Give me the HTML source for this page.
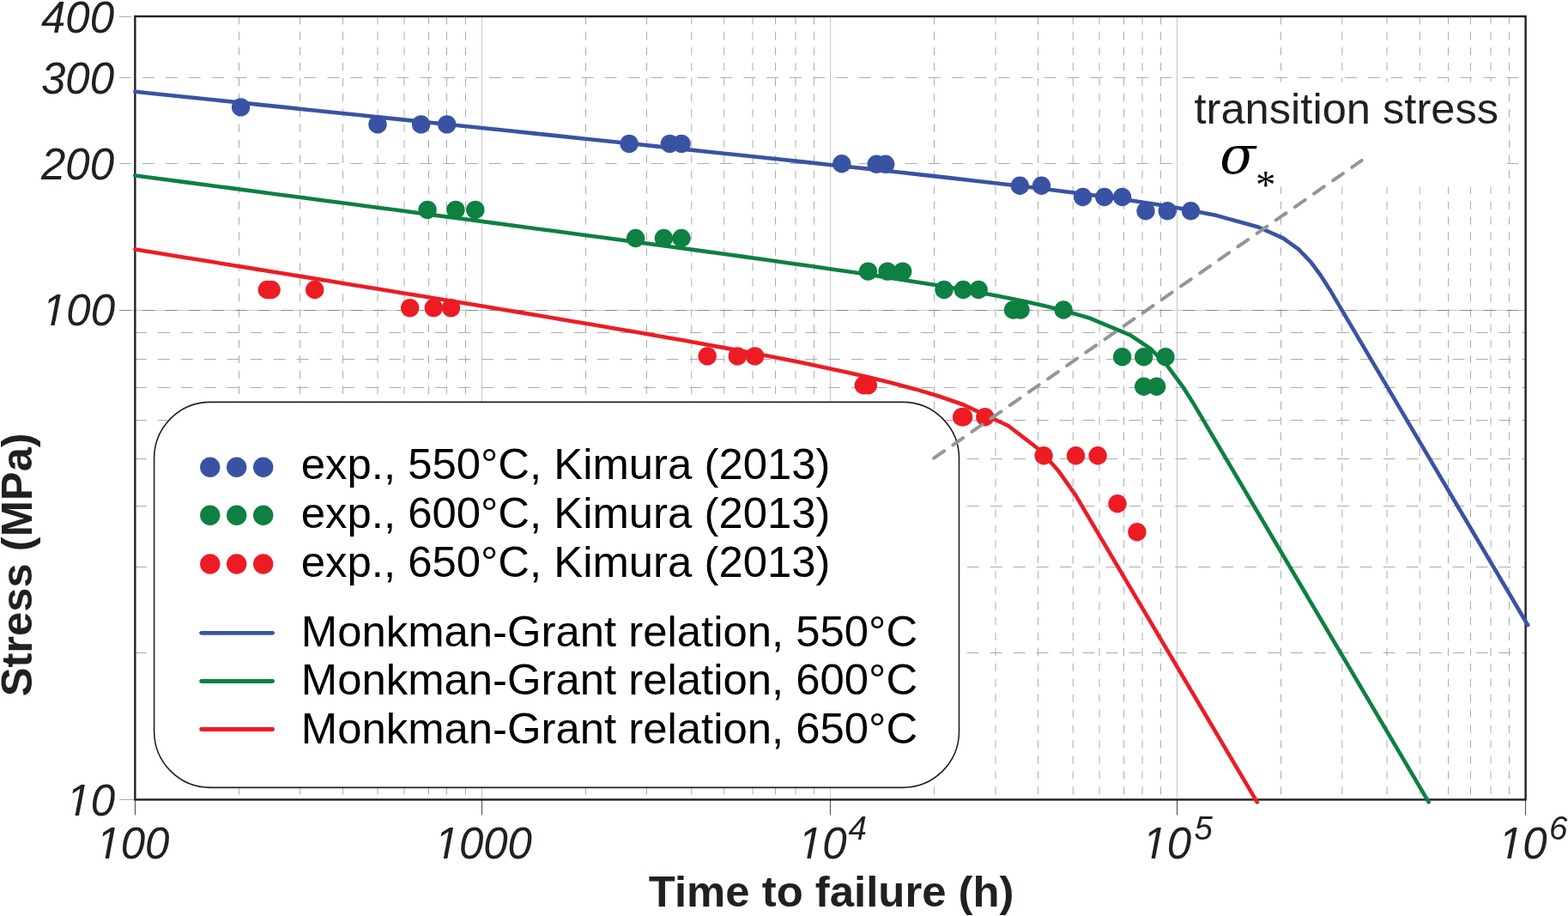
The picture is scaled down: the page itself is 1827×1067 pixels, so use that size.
<!DOCTYPE html><html><head><meta charset="utf-8"><title>Stress vs time to failure</title><style>html,body{margin:0;padding:0;background:#fff;}svg{display:block;}</style></head><body>
<svg width="1827" height="1067" viewBox="0 0 1827 1067">
<rect x="0" y="0" width="1827" height="1067" fill="#fff"/>
<g fill="none" stroke-width="1">
<line x1="278.5" y1="19.3" x2="278.5" y2="931.45" stroke="#aaacaf" stroke-dasharray="9.2 8.74"/>
<line x1="349.5" y1="19.3" x2="349.5" y2="931.45" stroke="#aaacaf" stroke-dasharray="9.2 8.74"/>
<line x1="399.5" y1="19.3" x2="399.5" y2="931.45" stroke="#aaacaf" stroke-dasharray="9.2 8.74"/>
<line x1="440.0" y1="19.3" x2="440.0" y2="931.45" stroke="#aaacaf" stroke-dasharray="9.2 8.74"/>
<line x1="471.0" y1="19.3" x2="471.0" y2="931.45" stroke="#aaacaf" stroke-dasharray="9.2 8.74"/>
<line x1="499.5" y1="19.3" x2="499.5" y2="931.45" stroke="#aaacaf" stroke-dasharray="9.2 8.74"/>
<line x1="520.5" y1="19.3" x2="520.5" y2="931.45" stroke="#aaacaf" stroke-dasharray="9.2 8.74"/>
<line x1="542.5" y1="19.3" x2="542.5" y2="931.45" stroke="#aaacaf" stroke-dasharray="9.2 8.74"/>
<line x1="682.5" y1="19.3" x2="682.5" y2="931.45" stroke="#aaacaf" stroke-dasharray="9.2 8.74"/>
<line x1="753.5" y1="19.3" x2="753.5" y2="931.45" stroke="#aaacaf" stroke-dasharray="9.2 8.74"/>
<line x1="805.75" y1="19.3" x2="805.75" y2="931.45" stroke="#aaacaf" stroke-dasharray="9.2 8.74"/>
<line x1="843.75" y1="19.3" x2="843.75" y2="931.45" stroke="#aaacaf" stroke-dasharray="9.2 8.74"/>
<line x1="877.0" y1="19.3" x2="877.0" y2="931.45" stroke="#aaacaf" stroke-dasharray="9.2 8.74"/>
<line x1="903.5" y1="19.3" x2="903.5" y2="931.45" stroke="#aaacaf" stroke-dasharray="9.2 8.74"/>
<line x1="927.0" y1="19.3" x2="927.0" y2="931.45" stroke="#aaacaf" stroke-dasharray="9.2 8.74"/>
<line x1="948.5" y1="19.3" x2="948.5" y2="931.45" stroke="#aaacaf" stroke-dasharray="9.2 8.74"/>
<line x1="1088.5" y1="19.3" x2="1088.5" y2="931.45" stroke="#aaacaf" stroke-dasharray="9.2 8.74"/>
<line x1="1160.0" y1="19.3" x2="1160.0" y2="931.45" stroke="#aaacaf" stroke-dasharray="9.2 8.74"/>
<line x1="1209.5" y1="19.3" x2="1209.5" y2="931.45" stroke="#aaacaf" stroke-dasharray="9.2 8.74"/>
<line x1="1250.25" y1="19.3" x2="1250.25" y2="931.45" stroke="#aaacaf" stroke-dasharray="9.2 8.74"/>
<line x1="1281.0" y1="19.3" x2="1281.0" y2="931.45" stroke="#aaacaf" stroke-dasharray="9.2 8.74"/>
<line x1="1309.5" y1="19.3" x2="1309.5" y2="931.45" stroke="#aaacaf" stroke-dasharray="9.2 8.74"/>
<line x1="1331.0" y1="19.3" x2="1331.0" y2="931.45" stroke="#aaacaf" stroke-dasharray="9.2 8.74"/>
<line x1="1352.5" y1="19.3" x2="1352.5" y2="931.45" stroke="#aaacaf" stroke-dasharray="9.2 8.74"/>
<line x1="1492.5" y1="19.3" x2="1492.5" y2="931.45" stroke="#aaacaf" stroke-dasharray="9.2 8.74"/>
<line x1="1563.75" y1="19.3" x2="1563.75" y2="931.45" stroke="#aaacaf" stroke-dasharray="9.2 8.74"/>
<line x1="1616.0" y1="19.3" x2="1616.0" y2="931.45" stroke="#aaacaf" stroke-dasharray="9.2 8.74"/>
<line x1="1654.25" y1="19.3" x2="1654.25" y2="931.45" stroke="#aaacaf" stroke-dasharray="9.2 8.74"/>
<line x1="1687.5" y1="19.3" x2="1687.5" y2="931.45" stroke="#aaacaf" stroke-dasharray="9.2 8.74"/>
<line x1="1713.5" y1="19.3" x2="1713.5" y2="931.45" stroke="#aaacaf" stroke-dasharray="9.2 8.74"/>
<line x1="1737.0" y1="19.3" x2="1737.0" y2="931.45" stroke="#aaacaf" stroke-dasharray="9.2 8.74"/>
<line x1="1758.5" y1="19.3" x2="1758.5" y2="931.45" stroke="#aaacaf" stroke-dasharray="9.2 8.74"/>
<line x1="561.5" y1="19.05" x2="561.5" y2="931.45" stroke="#c7c7c8"/>
<line x1="967.5" y1="19.05" x2="967.5" y2="931.45" stroke="#c7c7c8"/>
<line x1="1371.5" y1="19.05" x2="1371.5" y2="931.45" stroke="#c7c7c8"/>
<line x1="157" y1="387.5" x2="1777.6" y2="387.5" stroke="#aaacaf" stroke-dasharray="13.9 13.04"/>
<line x1="157" y1="418.5" x2="1777.6" y2="418.5" stroke="#aaacaf" stroke-dasharray="13.9 13.04"/>
<line x1="157" y1="451.5" x2="1777.6" y2="451.5" stroke="#aaacaf" stroke-dasharray="13.9 13.04"/>
<line x1="157" y1="489.5" x2="1777.6" y2="489.5" stroke="#aaacaf" stroke-dasharray="13.9 13.04"/>
<line x1="157" y1="534.5" x2="1777.6" y2="534.5" stroke="#aaacaf" stroke-dasharray="13.9 13.04"/>
<line x1="157" y1="589.5" x2="1777.6" y2="589.5" stroke="#aaacaf" stroke-dasharray="13.9 13.04"/>
<line x1="157" y1="660.5" x2="1777.6" y2="660.5" stroke="#aaacaf" stroke-dasharray="13.9 13.04"/>
<line x1="157" y1="760.5" x2="1777.6" y2="760.5" stroke="#aaacaf" stroke-dasharray="13.9 13.04"/>
<line x1="139" y1="90.5" x2="1777.6" y2="90.5" stroke="#aaacaf" stroke-dasharray="13.9 13.04"/>
<line x1="139" y1="190.5" x2="1777.6" y2="190.5" stroke="#aaacaf" stroke-dasharray="13.9 13.04"/>
<line x1="139" y1="361.5" x2="1777.6" y2="361.5" stroke="#c7c7c8"/>
<line x1="139" y1="361.5" x2="1777.6" y2="361.5" stroke="#8b8c8f" stroke-dasharray="13.9 13.04"/>
<line x1="139" y1="19.5" x2="153" y2="19.5" stroke="#aaacaf"/>
<line x1="139" y1="931.5" x2="157" y2="931.5" stroke="#aaacaf"/>
<line x1="157.5" y1="931.45" x2="157.5" y2="949.5" stroke="#58595b" stroke-width="1.2"/>
<line x1="561.5" y1="931.45" x2="561.5" y2="949.5" stroke="#58595b" stroke-width="1.2"/>
<line x1="967.5" y1="931.45" x2="967.5" y2="949.5" stroke="#58595b" stroke-width="1.2"/>
<line x1="1371.5" y1="931.45" x2="1371.5" y2="949.5" stroke="#58595b" stroke-width="1.2"/>
<line x1="1777.5" y1="931.45" x2="1777.5" y2="949.5" stroke="#58595b" stroke-width="1.2"/>
</g>
<rect x="179.6" y="468.4" width="937.9" height="448.95" rx="65.5" ry="65.5" fill="#fff" stroke="#231f20" stroke-width="1.6"/>
<rect x="1379" y="95.5" width="377" height="122.5" fill="#fff"/>
<rect x="157.35" y="19.05" width="1620.25" height="912.40" fill="none" stroke="#231f20" stroke-width="2.4"/>
<path d="M157.35,106.73 L185.47,109.67 L214.58,112.72 L243.69,115.76 L272.79,118.81 L301.90,121.85 L331.00,124.90 L360.11,127.95 L389.20,130.99 L418.30,134.04 L447.39,137.09 L476.47,140.13 L505.55,143.18 L534.62,146.23 L563.68,149.27 L592.73,152.32 L621.77,155.36 L650.79,158.41 L679.79,161.46 L708.76,164.50 L737.70,167.55 L766.61,170.60 L795.48,173.64 L824.29,176.69 L853.04,179.74 L881.72,182.78 L910.30,185.83 L938.78,188.87 L967.12,191.92 L995.31,194.97 L1023.31,198.01 L1051.09,201.06 L1078.60,204.11 L1105.80,207.15 L1132.63,210.20 L1159.02,213.25 L1184.91,216.29 L1210.22,219.34 L1239.69,222.99 L1268.04,226.65 L1295.10,230.31 L1320.71,233.96 L1348.56,238.23 L1374.03,242.49 L1417.78,251.10 L1466.16,264.50 L1494.97,277.40 L1513.13,290.30 L1527.84,305.80 L1538.74,320.70 L1550.65,339.30 L1780.12,728.00" fill="none" stroke="#3953a4" stroke-width="4.6" stroke-linecap="round" stroke-linejoin="round"/>
<path d="M157.35,204.43 L186.08,208.22 L213.61,211.86 L241.14,215.50 L268.66,219.13 L296.18,222.77 L323.70,226.41 L351.20,230.05 L378.70,233.68 L406.19,237.32 L433.67,240.96 L461.13,244.59 L488.58,248.23 L516.00,251.87 L543.41,255.51 L570.78,259.14 L598.12,262.78 L625.42,266.42 L652.68,270.05 L679.87,273.69 L707.00,277.33 L734.05,280.97 L761.00,284.60 L787.84,288.24 L814.54,291.88 L841.08,295.51 L867.44,299.15 L893.58,302.79 L919.46,306.43 L945.04,310.06 L970.26,313.70 L995.09,317.34 L1025.45,321.88 L1054.96,326.43 L1083.46,330.98 L1110.81,335.52 L1136.85,340.07 L1161.45,344.61 L1188.87,350.07 L1213.86,355.53 L1239.82,361.89 L1270.40,370.80 L1317.01,390.30 L1340.50,406.20 L1359.59,425.30 L1378.23,450.60 L1390.11,469.20 L1664.70,934.30" fill="none" stroke="#0d8042" stroke-width="4.6" stroke-linecap="round" stroke-linejoin="round"/>
<path d="M157.35,290.50 L182.28,294.55 L210.85,299.19 L239.39,303.83 L267.93,308.47 L296.44,313.11 L324.93,317.74 L353.39,322.38 L381.82,327.02 L410.22,331.66 L438.57,336.30 L466.86,340.94 L495.10,345.58 L523.26,350.21 L551.33,354.85 L579.31,359.49 L607.16,364.13 L634.88,368.77 L662.43,373.41 L689.79,378.05 L716.94,382.68 L743.82,387.32 L770.41,391.96 L796.65,396.60 L822.50,401.24 L847.89,405.88 L872.78,410.52 L903.07,416.31 L932.32,422.11 L960.40,427.91 L987.16,433.71 L1012.49,439.51 L1040.83,446.46 L1066.78,453.42 L1093.97,461.54 L1120.65,470.70 L1174.87,496.00 L1212.21,524.70 L1232.98,548.20 L1253.26,576.90 L1464.79,934.30" fill="none" stroke="#ed1c24" stroke-width="4.6" stroke-linecap="round" stroke-linejoin="round"/>
<g fill="#3953a4"><circle cx="280.6" cy="124.9" r="10.7"/><circle cx="440" cy="144.9" r="10.7"/><circle cx="490.6" cy="144.9" r="10.7"/><circle cx="520.7" cy="144.9" r="10.7"/><circle cx="733.1" cy="167.4" r="10.7"/><circle cx="780.4" cy="167.4" r="10.7"/><circle cx="794" cy="167.4" r="10.7"/><circle cx="980.8" cy="190.8" r="10.7"/><circle cx="1021.2" cy="191.2" r="10.7"/><circle cx="1031.7" cy="191.2" r="10.7"/><circle cx="1188.3" cy="216.3" r="10.7"/><circle cx="1213.5" cy="216.3" r="10.7"/><circle cx="1261.6" cy="229.5" r="10.7"/><circle cx="1286.8" cy="229.5" r="10.7"/><circle cx="1307.6" cy="229.5" r="10.7"/><circle cx="1335" cy="245.7" r="10.7"/><circle cx="1360.2" cy="245.7" r="10.7"/><circle cx="1387.5" cy="245.7" r="10.7"/></g>
<g fill="#0d8042"><circle cx="498.1" cy="244.4" r="10.7"/><circle cx="530.9" cy="244.4" r="10.7"/><circle cx="553.8" cy="244.4" r="10.7"/><circle cx="740.6" cy="277.5" r="10.7"/><circle cx="773.4" cy="277.5" r="10.7"/><circle cx="794" cy="277.5" r="10.7"/><circle cx="1011.5" cy="316.1" r="10.7"/><circle cx="1034" cy="316.1" r="10.7"/><circle cx="1051.7" cy="316.1" r="10.7"/><circle cx="1100" cy="337.5" r="10.7"/><circle cx="1122.3" cy="337.5" r="10.7"/><circle cx="1140.2" cy="337.5" r="10.7"/><circle cx="1180.5" cy="361.0" r="10.7"/><circle cx="1189" cy="361.0" r="10.7"/><circle cx="1239.1" cy="361.0" r="10.7"/><circle cx="1307.6" cy="415.7" r="10.7"/><circle cx="1332.7" cy="415.7" r="10.7"/><circle cx="1358" cy="415.7" r="10.7"/><circle cx="1332.7" cy="450.2" r="10.7"/><circle cx="1347.6" cy="450.2" r="10.7"/></g>
<g fill="#ed1c24"><circle cx="311.3" cy="337.5" r="10.7"/><circle cx="316.1" cy="337.5" r="10.7"/><circle cx="366.7" cy="337.5" r="10.7"/><circle cx="477.7" cy="358.6" r="10.7"/><circle cx="505.3" cy="358.6" r="10.7"/><circle cx="525.5" cy="358.6" r="10.7"/><circle cx="824.2" cy="414.9" r="10.7"/><circle cx="859.3" cy="414.9" r="10.7"/><circle cx="879.6" cy="414.9" r="10.7"/><circle cx="1006.3" cy="448.8" r="10.7"/><circle cx="1011.3" cy="448.8" r="10.7"/><circle cx="1120.6" cy="485.8" r="10.7"/><circle cx="1122.6" cy="485.8" r="10.7"/><circle cx="1147.8" cy="485.8" r="10.7"/><circle cx="1216.1" cy="530.8" r="10.7"/><circle cx="1253.5" cy="530.8" r="10.7"/><circle cx="1279.1" cy="530.8" r="10.7"/><circle cx="1302" cy="586.7" r="10.7"/><circle cx="1324.9" cy="619.8" r="10.7"/></g>
<line x1="1088.2" y1="533.7" x2="1586.7" y2="186.9" stroke="#939598" stroke-width="4" stroke-linecap="round" stroke-dasharray="14.4 12.57"/>
<g font-family="'Liberation Sans', Arial, sans-serif" font-style="italic" font-size="51" fill="#231f20" text-anchor="end">
<text x="133" y="37.5">400</text>
<text x="133" y="108.7">300</text>
<text x="133" y="208.5">200</text>
<text x="134" y="378.7">100</text>
<text x="134" y="949.6">10</text>
<text x="197.4" y="1000">100</text>
<text x="620.0" y="1000">1000</text>
<text x="986.7" y="1000">10</text>
<text x="1388.0" y="1000">10</text>
<text x="1802.7" y="1000">10</text>
</g>
<g font-family="'Liberation Sans', Arial, sans-serif" font-style="italic" font-size="38.5" fill="#231f20">
<text x="988.4" y="977.5">4</text>
<text x="1391.4" y="977.5">5</text>
<text x="1805.0" y="977.5">6</text>
</g>
<g fill="#fff"><path d="M-80,-90 L-30,178 L446.9,178 L395.0,-90 Z M627.9,178 L1080,178 L1060,-90 L576.0,-90 Z" transform="translate(48.91,378.70) scale(0.024902,-0.024902)"/><path d="M-80,-90 L-30,178 L446.9,178 L395.0,-90 Z M627.9,178 L1080,178 L1060,-90 L576.0,-90 Z" transform="translate(77.27,949.60) scale(0.024902,-0.024902)"/><path d="M-80,-90 L-30,178 L446.9,178 L395.0,-90 Z M627.9,178 L1080,178 L1060,-90 L576.0,-90 Z" transform="translate(112.31,1000.00) scale(0.024902,-0.024902)"/><path d="M-80,-90 L-30,178 L446.9,178 L395.0,-90 Z M627.9,178 L1080,178 L1060,-90 L576.0,-90 Z" transform="translate(506.54,1000.00) scale(0.024902,-0.024902)"/><path d="M-80,-90 L-30,178 L446.9,178 L395.0,-90 Z M627.9,178 L1080,178 L1060,-90 L576.0,-90 Z" transform="translate(929.97,1000.00) scale(0.024902,-0.024902)"/><path d="M-80,-90 L-30,178 L446.9,178 L395.0,-90 Z M627.9,178 L1080,178 L1060,-90 L576.0,-90 Z" transform="translate(1331.27,1000.00) scale(0.024902,-0.024902)"/><path d="M-80,-90 L-30,178 L446.9,178 L395.0,-90 Z M627.9,178 L1080,178 L1060,-90 L576.0,-90 Z" transform="translate(1745.97,1000.00) scale(0.024902,-0.024902)"/></g>
<text x="968.7" y="1055.5" text-anchor="middle" font-family="'Liberation Sans', Arial, sans-serif" font-weight="bold" font-size="50.87" fill="#231f20">Time to failure (h)</text>
<text transform="translate(37.2,657.8) rotate(-90)" text-anchor="middle" font-family="'Liberation Sans', Arial, sans-serif" font-weight="bold" font-size="50.7" fill="#231f20">Stress (MPa)</text>
<g fill="#3953a4"><circle cx="244.8" cy="544.2" r="11.7"/><circle cx="275.7" cy="544.2" r="11.7"/><circle cx="306.7" cy="544.2" r="11.7"/></g>
<g fill="#0d8042"><circle cx="244.8" cy="600.2" r="11.7"/><circle cx="275.7" cy="600.2" r="11.7"/><circle cx="306.7" cy="600.2" r="11.7"/></g>
<g fill="#ed1c24"><circle cx="244.8" cy="657.0" r="11.7"/><circle cx="275.7" cy="657.0" r="11.7"/><circle cx="306.7" cy="657.0" r="11.7"/></g>
<line x1="234.6" y1="737.3" x2="317.6" y2="737.3" stroke="#3953a4" stroke-width="4.8" stroke-linecap="round"/>
<line x1="234.6" y1="793.5" x2="317.6" y2="793.5" stroke="#0d8042" stroke-width="4.8" stroke-linecap="round"/>
<line x1="234.6" y1="849.5" x2="317.6" y2="849.5" stroke="#ed1c24" stroke-width="4.8" stroke-linecap="round"/>
<g font-family="'Liberation Sans', Arial, sans-serif" font-size="50.85" fill="#000">
<text x="350.8" y="557.8">exp., 550°C, Kimura (2013)</text>
<text x="350.8" y="614.8">exp., 600°C, Kimura (2013)</text>
<text x="350.8" y="671.8">exp., 650°C, Kimura (2013)</text>
<text x="350.8" y="753.0">Monkman-Grant relation, 550°C</text>
<text x="350.8" y="809.0">Monkman-Grant relation, 600°C</text>
<text x="350.8" y="866.0">Monkman-Grant relation, 650°C</text>
</g>
<text x="1391.5" y="143.9" font-family="'Liberation Sans', Arial, sans-serif" font-size="50.65" fill="#231f20">transition stress</text>
<text x="1419" y="201.9" font-family="'DejaVu Math TeX Gyre', 'DejaVu Serif', serif" font-size="61.5" fill="#000">&#x1D70E;</text>
<text x="1463" y="231" font-family="'Liberation Serif', 'Times New Roman', serif" font-size="47" fill="#000">*</text>
</svg></body></html>
